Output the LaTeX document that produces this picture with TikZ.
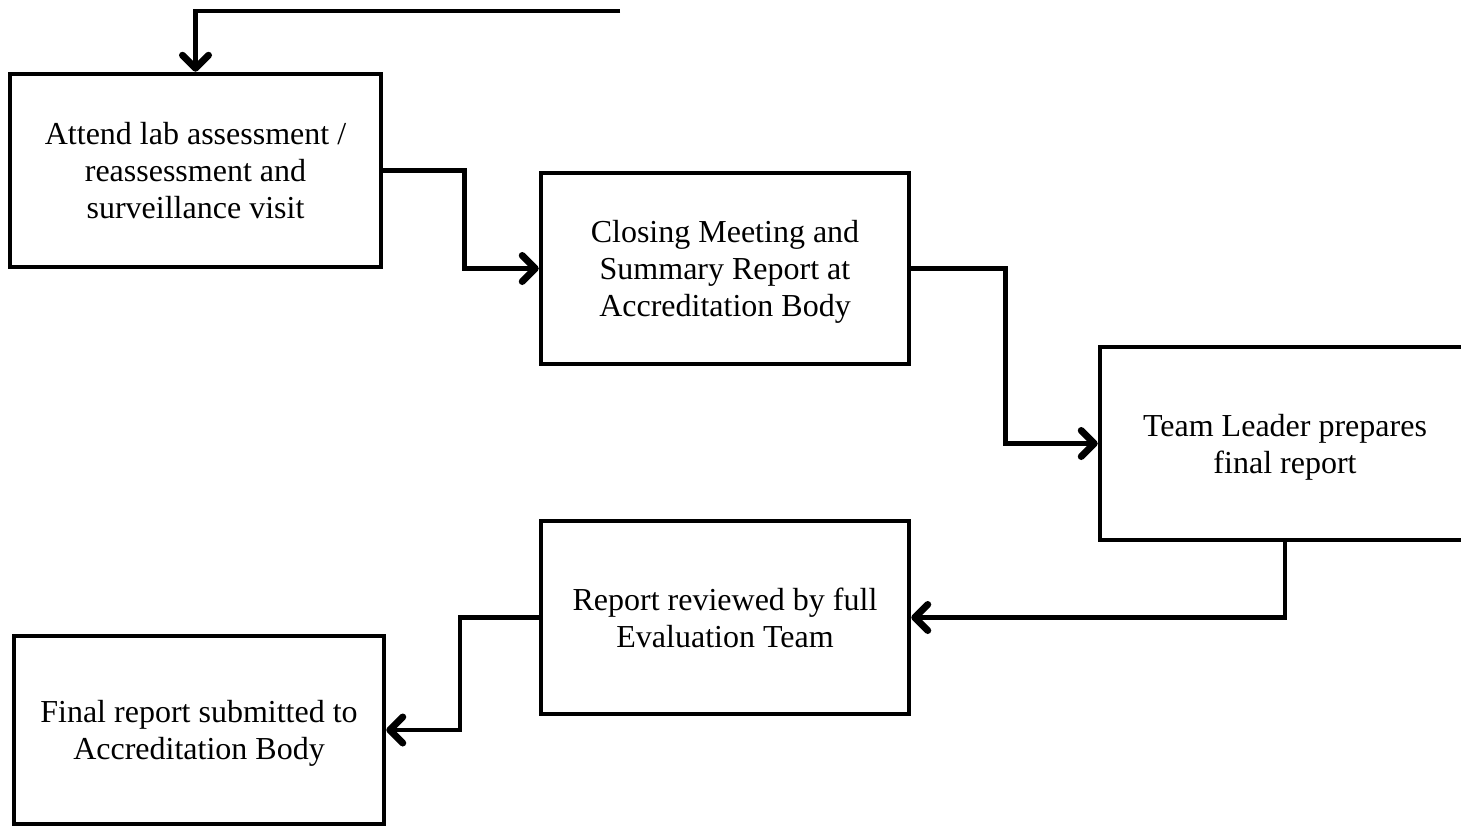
\documentclass[tikz,border=0pt]{standalone}
\usepackage{fontspec}
\setmainfont{Liberation Serif}
\usetikzlibrary{arrows.meta}
\begin{document}
\begin{tikzpicture}[x=1pt,y=-1pt,
  box/.style={draw=black, line width=4.5pt, fill=white, align=center, inner sep=0pt,
    font=\fontsize{32}{37}\selectfont, text depth=-11pt},
  conn/.style={draw=black, line width=4.5pt, line join=miter,
    -{Straight Barb[length=13pt,width=26pt,line width=7pt,line cap=round,line join=round]}}]
\useasboundingbox (0,0) rectangle (1461,827);
\node[box, minimum width=371pt, minimum height=193pt] (A) at (195.5,170.5)
  {Attend lab assessment /\\reassessment and\\surveillance visit};
\node[box, minimum width=368pt, minimum height=191pt] (B) at (725,268.5)
  {Closing Meeting and\\Summary Report at\\Accreditation Body};
\node[box, minimum width=370pt, minimum height=193pt] (C) at (1285,443.5)
  {Team Leader prepares\\final report};
\node[box, minimum width=368pt, minimum height=193pt] (D) at (725,617.5)
  {Report reviewed by full\\Evaluation Team};
\node[box, minimum width=370pt, minimum height=188pt] (E) at (199,730)
  {Final report submitted to\\Accreditation Body};
\coordinate (S) at (620,11);
\draw[conn] (S) -| (A.north);
\draw[conn] (A.east) -- ++(81,0) |- (B.west);
\draw[conn] (B.east) -- ++(94,0) |- (C.west);
\draw[conn] (C.south) |- (D.east);
\draw[conn] (D.west) -- ++(-79,0) |- (E.east);
\end{tikzpicture}
\end{document}
